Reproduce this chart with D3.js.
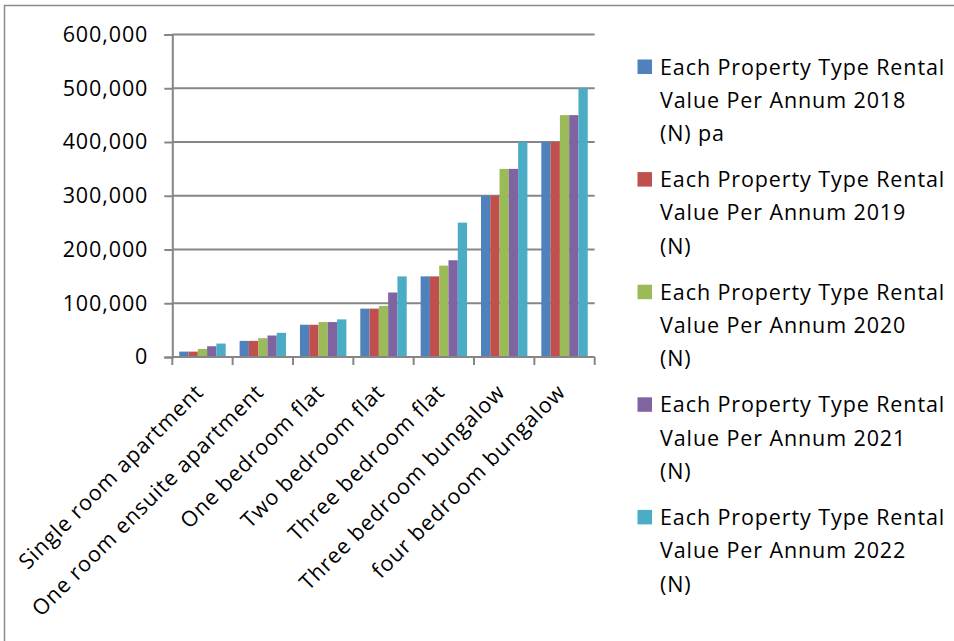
<!DOCTYPE html>
<html>
<head>
<meta charset="utf-8">
<script src="https://cdn.jsdelivr.net/npm/d3@7"></script>
<style>
  html, body { margin: 0; padding: 0; background: #fff; }
  svg { display: block; }
  text { font-family: "Open Sans", sans-serif; fill: #000; letter-spacing: 0.9px; }
</style>
</head>
<body>
<svg id="chart" width="954" height="641"></svg>
<script>
// Property types along the category axis
const categories = [
  "Single room apartment",
  "One room ensuite apartment",
  "One bedroom flat",
  "Two bedroom flat",
  "Three bedroom flat",
  "Three bedroom bungalow",
  "four bedroom bungalow"
];

// Annual rental value per property type, one list per year
const values2018 = [10000, 30000, 60000, 90000, 150000, 300000, 400000];
const values2019 = [10000, 30000, 60000, 90000, 150000, 300000, 400000];
const values2020 = [15000, 35000, 65000, 95000, 170000, 350000, 450000];
const values2021 = [20000, 40000, 65000, 120000, 180000, 350000, 450000];
const values2022 = [25000, 45000, 70000, 150000, 250000, 400000, 500000];

const seriesNames = [
  ["Each Property Type Rental", "Value Per Annum 2018", "(N) pa"],
  ["Each Property Type Rental", "Value Per Annum 2019", "(N)"],
  ["Each Property Type Rental", "Value Per Annum 2020", "(N)"],
  ["Each Property Type Rental", "Value Per Annum 2021", "(N)"],
  ["Each Property Type Rental", "Value Per Annum 2022", "(N)"]
];
const seriesColors = ["#4F81BD", "#C0504D", "#9BBB59", "#8064A2", "#4BACC6"];
const yTicks = [0, 100000, 200000, 300000, 400000, 500000, 600000];

const series = [values2018, values2019, values2020, values2021, values2022].map((vals, i) => ({
  name: seriesNames[i],
  color: seriesColors[i],
  values: vals
}));

const svg = d3.select("#chart");
const fontSize = 21.5;

// Outer frame of the chart area
svg.append("rect")
  .attr("x", 4.5).attr("y", 5.5)
  .attr("width", 1000).attr("height", 700)
  .attr("fill", "none").attr("stroke", "#8a8a8a").attr("stroke-width", 1.5);

const plot = { left: 172.3, right: 594.7, top: 34.5, bottom: 357 };

const x = d3.scaleBand()
  .domain(categories)
  .range([plot.left, plot.right])
  .paddingInner(0).paddingOuter(0);

// Bars in a category share 5 slots with a 150% gap split on both sides
const inner = d3.scaleBand()
  .domain(d3.range(series.length))
  .range([0, x.bandwidth()])
  .paddingOuter(0.75)
  .paddingInner(0);

const y = d3.scaleLinear()
  .domain([0, 600000])
  .range([plot.bottom, plot.top]);

const axisColor = "#868686";
const fmt = d3.format(",");

// Horizontal gridlines
svg.append("g")
  .selectAll("line")
  .data(yTicks.filter(d => d > 0))
  .join("line")
  .attr("x1", plot.left).attr("x2", plot.right)
  .attr("y1", d => y(d)).attr("y2", d => y(d))
  .attr("stroke", axisColor).attr("stroke-width", 2);

// Value axis
const yAxis = svg.append("g")
  .attr("transform", `translate(${plot.left},0)`)
  .call(d3.axisLeft(y).tickValues(yTicks).tickFormat(fmt).tickSize(8).tickPadding(16));
yAxis.select(".domain").attr("stroke", axisColor).attr("stroke-width", 2);
yAxis.selectAll(".tick line").attr("stroke", axisColor).attr("stroke-width", 2);
yAxis.selectAll(".tick text")
  .attr("font-family", "Open Sans, sans-serif")
  .attr("font-size", fontSize)
  .attr("fill", "#000");

// Bars
const groups = svg.append("g")
  .selectAll("g")
  .data(series)
  .join("g")
  .attr("fill", d => d.color);

groups.each(function(s, si) {
  d3.select(this).selectAll("rect")
    .data(s.values.map((v, ci) => ({ v, c: categories[ci] })))
    .join("rect")
    .attr("x", d => x(d.c) + inner(si))
    .attr("width", inner.bandwidth())
    .attr("y", d => y(d.v))
    .attr("height", d => y(0) - y(d.v));
});

// Category axis
const xAxis = svg.append("g")
  .attr("transform", `translate(0,${plot.bottom})`);
xAxis.append("line")
  .attr("x1", plot.left).attr("x2", plot.right)
  .attr("stroke", axisColor).attr("stroke-width", 2);
const boundaries = categories.map(c => x(c)).concat([plot.right]);
xAxis.selectAll("line.tick")
  .data(boundaries)
  .join("line")
  .attr("class", "tick")
  .attr("x1", d => d).attr("x2", d => d)
  .attr("y1", 0).attr("y2", 8)
  .attr("stroke", axisColor).attr("stroke-width", 2);

xAxis.selectAll("text")
  .data(categories)
  .join("text")
  .attr("font-size", fontSize)
  .attr("text-anchor", "end")
  .attr("transform", d => `translate(${x(d) + x.bandwidth() / 2 - 3},${31}) rotate(-45)`)
  .attr("dy", "0.35em")
  .text(d => d);

// Legend
const legend = svg.append("g");
const legendTop = 67;
const entryGap = 112.6;
const lineH = 33.3;
series.forEach((s, i) => {
  const g = legend.append("g").attr("transform", `translate(0,${legendTop + i * entryGap})`);
  g.append("rect")
    .attr("x", 637.5).attr("y", -7.5)
    .attr("width", 14.5).attr("height", 14.5)
    .attr("fill", s.color);
  s.name.forEach((line, li) => {
    g.append("text")
      .attr("x", 660)
      .attr("y", li * lineH)
      .attr("dy", "0.35em")
      .attr("font-size", fontSize)
      .text(line);
  });
});
</script>
</body>
</html>
